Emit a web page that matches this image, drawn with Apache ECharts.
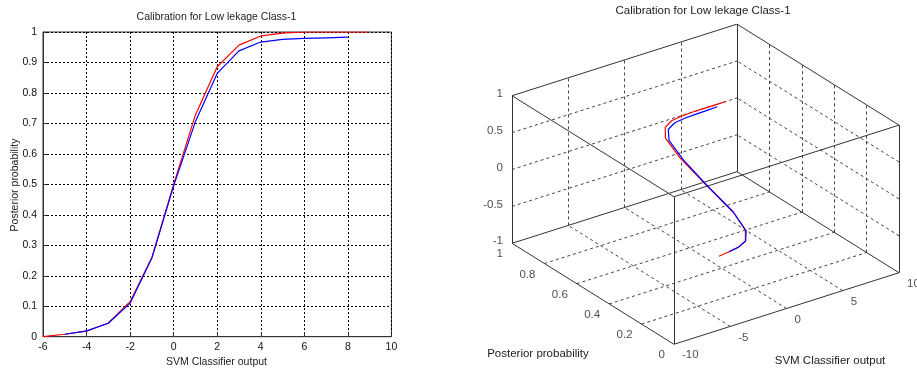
<!DOCTYPE html>
<html><head><meta charset="utf-8">
<script src="https://cdn.jsdelivr.net/npm/echarts@6/dist/echarts.min.js"></script>
<style>html,body{margin:0;padding:0;background:#fff}#c{width:917px;height:371px}</style>
</head><body><div id="c"></div>
<script>
// ---------- data ----------
const titleText = 'Calibration for Low lekage Class-1';
const xLabelText = 'SVM Classifier output';
const yLabelText = 'Posterior probability';

const svmOutput = [-6, -5, -4, -3, -2, -1, 0, 1, 2, 3, 4, 5, 6, 7, 8, 9];
const redProb   = [0.000, 0.008, 0.018, 0.045, 0.115, 0.260, 0.500, 0.728, 0.886, 0.957, 0.987, 0.996, 1.000, 1.000, 1.000, 1.000];
const blueProb  = [null, 0.008, 0.019, 0.044, 0.110, 0.258, 0.495, 0.706, 0.864, 0.938, 0.967, 0.976, 0.979, 0.981, 0.983, null];

const xTicks3d = [-10, -5, 0, 5, 10];
const yTicks3d = [0, 0.2, 0.4, 0.6, 0.8, 1];
const zTicks3d = [-1, -0.5, 0, 0.5, 1];
const zPlane = 0; // curves of the 3-D view lie in the z = 0 plane

// ---------- 3-D orthographic projection (view geometry) ----------
const X0 = -10, X1 = 10, Y0 = 0, Y1 = 1, Z0 = -1, Z1 = 1;
const P = {u0: 0.4186, v0: 0, xu: 0.5814, xv: 0.2235, yu: -0.4186, yv: 0.3153, zu: 0, zv: 0.4608};
function proj(x, y, z) {
  const a = (x - X0) / (X1 - X0), b = (y - Y0) / (Y1 - Y0), c = (z - Z0) / (Z1 - Z0);
  return [P.u0 + a * P.xu + b * P.yu + c * P.zu, P.v0 + a * P.xv + b * P.yv + c * P.zv];
}

const FONT = 'Liberation Sans, Arial, sans-serif';

const pairs = (ys) => svmOutput.map((x, i) => ys[i] == null ? null : [x, ys[i]]).filter(Boolean);
const pairs3d = (ys) => svmOutput.map((x, i) => ys[i] == null ? null : proj(x, ys[i], zPlane)).filter(Boolean);

// box edges
const boxEdges = [];
const xs = [X0, X1], ys = [Y0, Y1], zs = [Z0, Z1];
for (const y of ys) for (const z of zs) boxEdges.push({coords: [proj(X0, y, z), proj(X1, y, z)]});
for (const x of xs) for (const z of zs) boxEdges.push({coords: [proj(x, Y0, z), proj(x, Y1, z)]});
for (const x of xs) for (const y of ys) boxEdges.push({coords: [proj(x, y, Z0), proj(x, y, Z1)]});

// grid lines on floor and two back walls
const inner = (arr) => arr.slice(1, -1);
const gridLines = [];
for (const x of inner(xTicks3d)) {
  gridLines.push({coords: [proj(x, Y0, Z0), proj(x, Y1, Z0)]});
  gridLines.push({coords: [proj(x, Y1, Z0), proj(x, Y1, Z1)]});
}
for (const y of inner(yTicks3d)) {
  gridLines.push({coords: [proj(X0, y, Z0), proj(X1, y, Z0)]});
  gridLines.push({coords: [proj(X1, y, Z0), proj(X1, y, Z1)]});
}
for (const z of inner(zTicks3d)) {
  gridLines.push({coords: [proj(X0, Y1, z), proj(X1, Y1, z)]});
  gridLines.push({coords: [proj(X1, Y0, z), proj(X1, Y1, z)]});
}

function labelSeries(items, pos, align, vAlign) {
  return {
    type: 'scatter', xAxisIndex: 1, yAxisIndex: 1, symbolSize: 0, silent: true, z: 5,
    data: items,
    label: {show: true, formatter: '{b}', position: pos, align: align, verticalAlign: vAlign,
            color: '#222', fontSize: 11.5, fontFamily: FONT}
  };
}
const zLabels = zTicks3d.map(z => ({value: proj(X0, Y1, z), name: String(z)}));
const yLabels = yTicks3d.map(y => ({value: proj(X0, y, Z0), name: String(y)}));
const xLabels = xTicks3d.map(x => ({value: proj(x, Y0, Z0), name: String(x)}));

const chart = echarts.init(document.getElementById('c'), null, {renderer: 'canvas'});
chart.setOption({
  animation: false,
  backgroundColor: '#fff',
  grid: [
    {left: 43, top: 32, width: 348.4, height: 304.7, show: true, borderColor: '#333', borderWidth: 1, backgroundColor: '#fff'},
    {left: 512, top: 24, width: 387, height: 320.3}
  ],
  xAxis: [
    {gridIndex: 0, type: 'value', min: -6, max: 10, interval: 2,
     axisLine: {show: true, onZero: false, lineStyle: {color: '#333'}},
     axisTick: {show: true, inside: true, length: 4, lineStyle: {color: '#333'}},
     axisLabel: {color: '#111', fontSize: 10.5, fontFamily: FONT, margin: 5},
     splitLine: {show: true, lineStyle: {color: '#000', type: [2, 2], width: 1}}},
    {gridIndex: 1, type: 'value', min: 0, max: 1, show: false}
  ],
  yAxis: [
    {gridIndex: 0, type: 'value', min: 0, max: 1, interval: 0.1,
     axisLine: {show: true, onZero: false, lineStyle: {color: '#333'}},
     axisTick: {show: true, inside: true, length: 4, lineStyle: {color: '#333'}},
     axisLabel: {color: '#111', fontSize: 10.5, fontFamily: FONT, margin: 6,
                 formatter: v => String(Math.round(v * 10) / 10)},
     splitLine: {show: true, lineStyle: {color: '#000', type: [2, 2], width: 1}}},
    {gridIndex: 1, type: 'value', min: 0, max: 1, show: false}
  ],
  series: [
    {type: 'line', xAxisIndex: 0, yAxisIndex: 0, data: pairs(redProb), showSymbol: false, symbol: 'none',
     lineStyle: {color: '#ff0000', width: 1.2}, z: 3},
    {type: 'line', xAxisIndex: 0, yAxisIndex: 0, data: pairs(blueProb), showSymbol: false, symbol: 'none',
     lineStyle: {color: '#0000ff', width: 1.2}, z: 4},
    {type: 'lines', coordinateSystem: 'cartesian2d', xAxisIndex: 1, yAxisIndex: 1, silent: true, z: 1,
     data: gridLines, lineStyle: {color: '#444', width: 1, type: [3, 3], opacity: 1}},
    {type: 'lines', coordinateSystem: 'cartesian2d', xAxisIndex: 1, yAxisIndex: 1, silent: true, z: 2,
     data: boxEdges, lineStyle: {color: '#333', width: 1, opacity: 1}},
    {type: 'line', xAxisIndex: 1, yAxisIndex: 1, data: pairs3d(redProb), showSymbol: false, symbol: 'none',
     lineStyle: {color: '#ff0000', width: 1.2}, z: 3},
    {type: 'line', xAxisIndex: 1, yAxisIndex: 1, data: pairs3d(blueProb), showSymbol: false, symbol: 'none',
     lineStyle: {color: '#0000ff', width: 1.2}, z: 4},
    labelSeries(zLabels, [-9, -2], 'right', 'middle'),
    labelSeries(yLabels, [-9, 11], 'right', 'middle'),
    labelSeries(xLabels, [8, 11], 'left', 'middle')
  ],
  graphic: [
    {type: 'text', x: 216.5, y: 17, style: {text: titleText, align: 'center', verticalAlign: 'middle', fill: '#222', font: '10.5px ' + FONT}},
    {type: 'text', x: 216.5, y: 362, style: {text: xLabelText, align: 'center', verticalAlign: 'middle', fill: '#222', font: '10.5px ' + FONT}},
    {type: 'text', x: 15, y: 185, rotation: Math.PI / 2, style: {text: yLabelText, align: 'center', verticalAlign: 'middle', fill: '#222', font: '10.5px ' + FONT}},
    {type: 'text', x: 703, y: 11, style: {text: titleText, align: 'center', verticalAlign: 'middle', fill: '#222', font: '11.5px ' + FONT}},
    {type: 'text', x: 538, y: 354, style: {text: yLabelText, align: 'center', verticalAlign: 'middle', fill: '#222', font: '11.5px ' + FONT}},
    {type: 'text', x: 830, y: 361, style: {text: xLabelText, align: 'center', verticalAlign: 'middle', fill: '#222', font: '11.5px ' + FONT}}
  ]
});
</script>
</body></html>
